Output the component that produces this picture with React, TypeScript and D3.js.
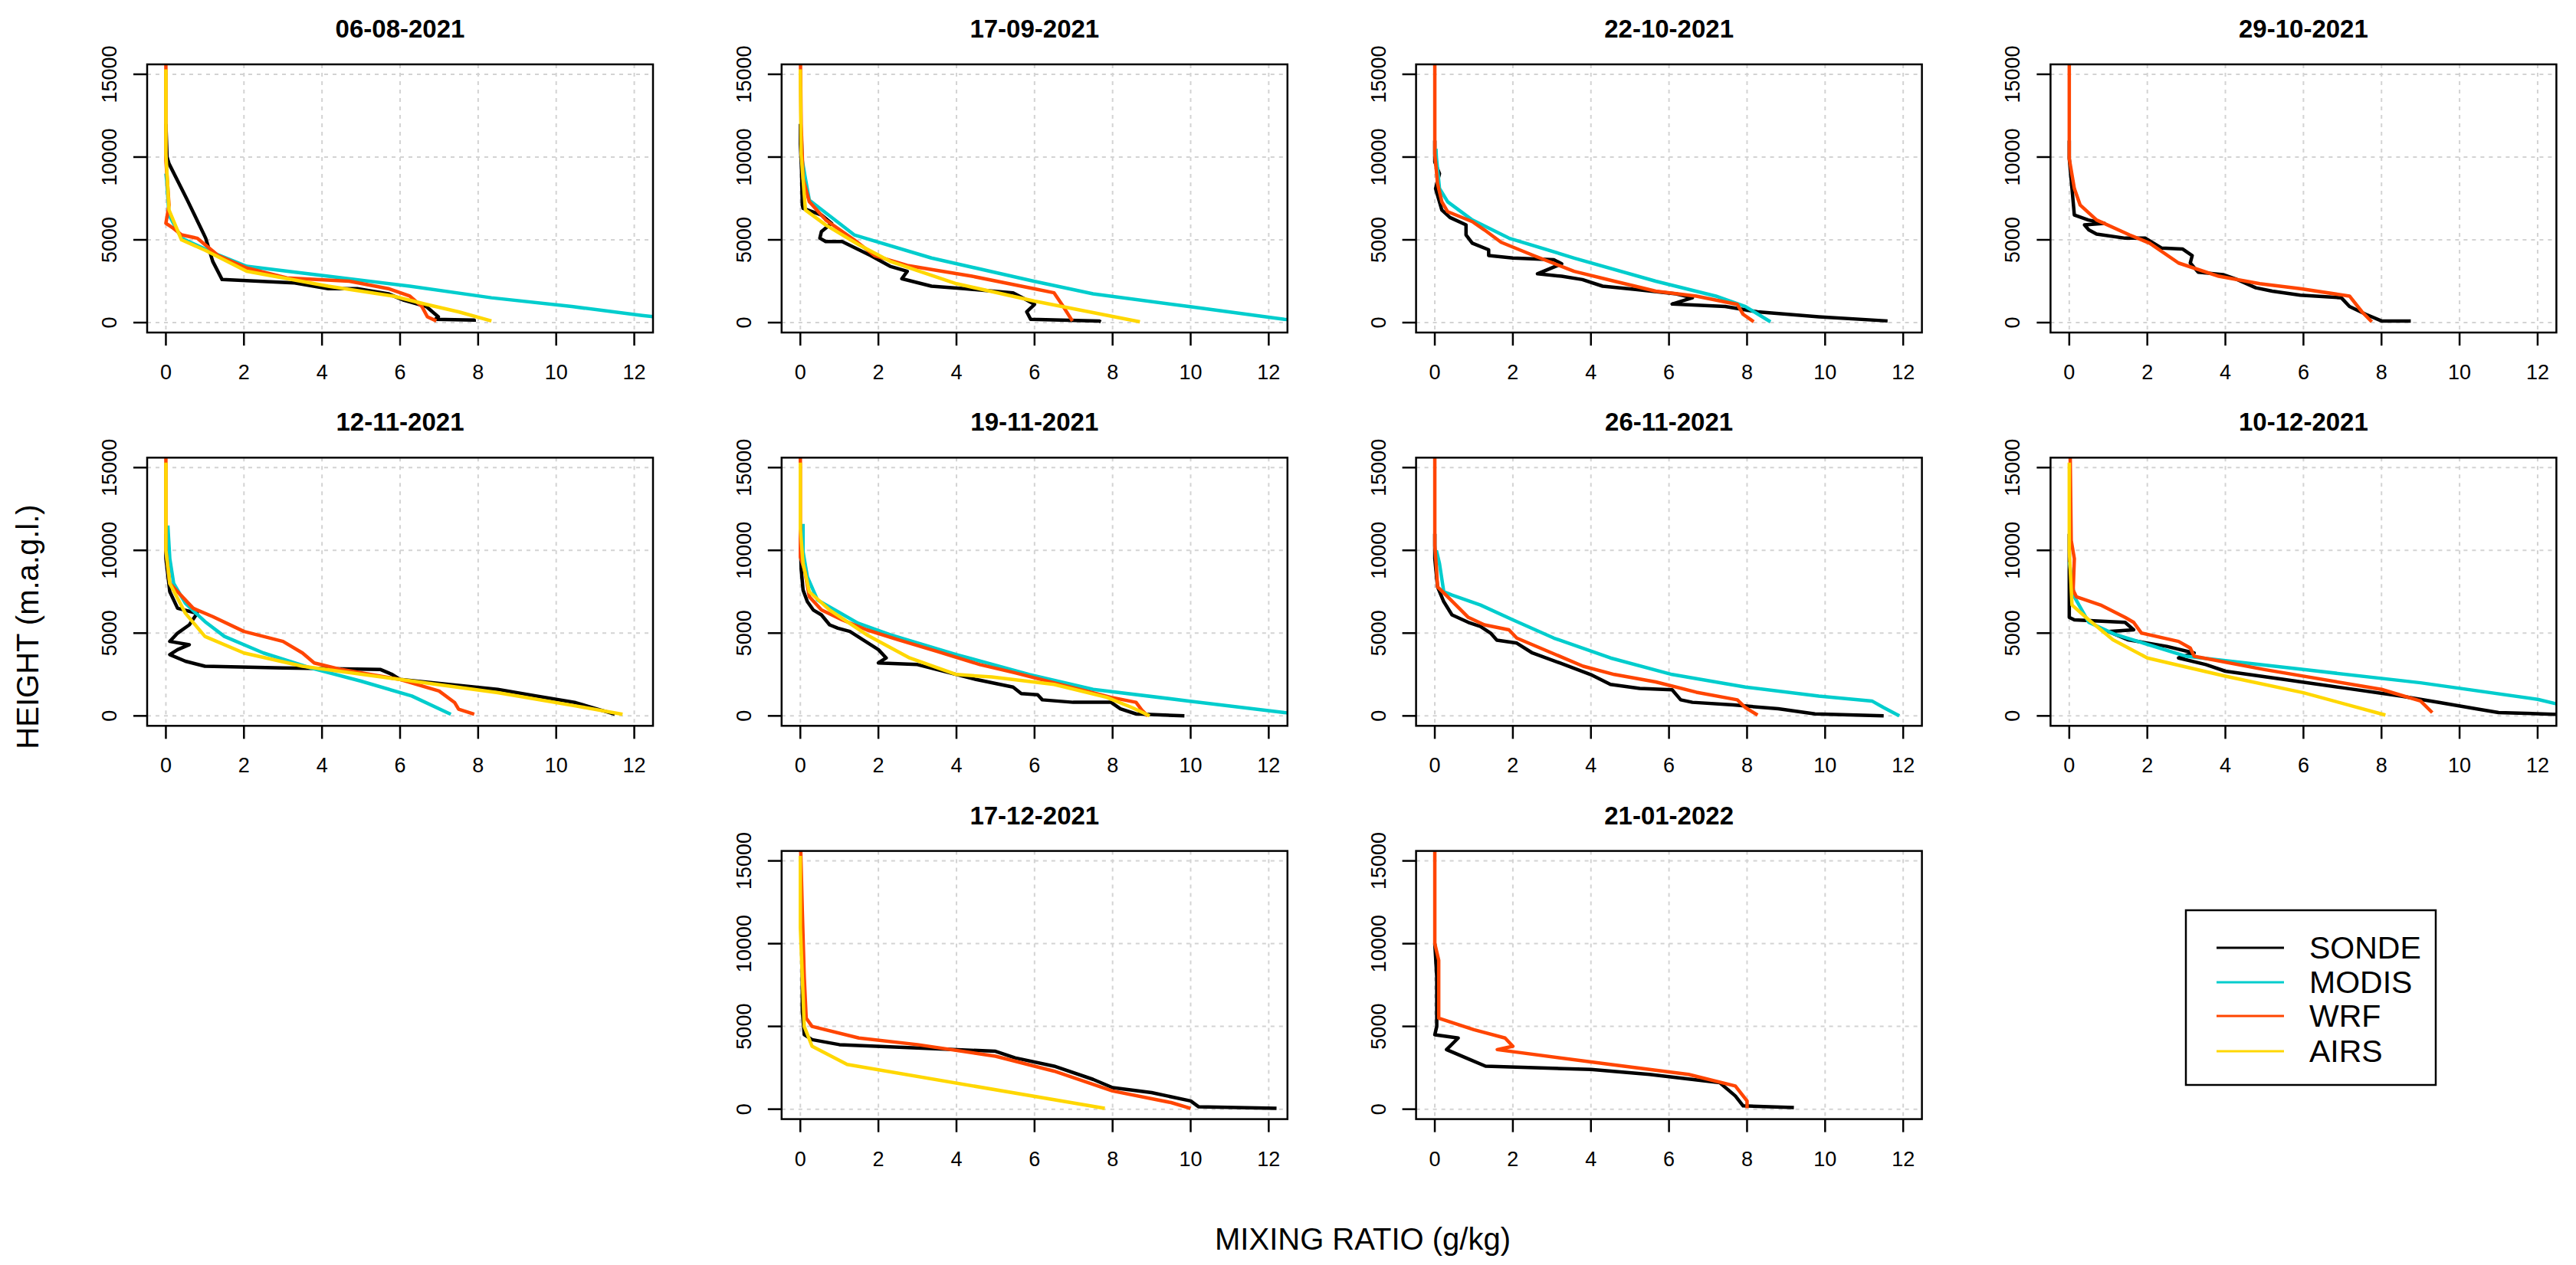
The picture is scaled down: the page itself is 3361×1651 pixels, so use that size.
import React from "react";
import * as d3 from "d3";

type Pt = [number, number];

const TITLES = [
  "06-08-2021", "17-09-2021", "22-10-2021", "29-10-2021",
  "12-11-2021", "19-11-2021", "26-11-2021", "10-12-2021",
  "17-12-2021", "21-01-2022",
];
const X_TICKS = [0, 2, 4, 6, 8, 10, 12];
const Y_TICKS = [0, 5000, 10000, 15000];
const SERIES_NAMES = ["SONDE", "MODIS", "WRF", "AIRS"];
const SERIES_COLORS = ["#000000", "#00CDCD", "#FF4500", "#FFD700"];

// ---- 06-08-2021
const SONDE_1: Pt[] = [[0,12000],[0.03,10000],[0.08,9600],[0.55,7400],[1.02,5100],[1.2,3700],[1.44,2600],[3.3,2400],[4.16,2050],[4.9,2050],[5.7,1740],[6.1,1350],[6.67,970],[6.98,350],[6.9,200],[7.9,150],[7.9,50]];
const MODIS_1: Pt[] = [[0,9000],[0.02,8600],[0.08,6500],[0.4,5100],[1.23,4200],[2.07,3400],[4.16,2800],[6.25,2200],[8.34,1500],[10.4,970],[12.2,430],[12.7,300]];
const WRF_1: Pt[] = [[0,16500],[0,9800],[0.08,7100],[0,6000],[0.19,5700],[0.4,5300],[0.8,5100],[1.34,4050],[2.07,3300],[3.1,2700],[4.7,2500],[5.7,2050],[6.25,1600],[6.56,970],[6.7,350],[6.93,100]];
const AIRS_1: Pt[] = [[0,15300],[0,10200],[0.08,6800],[0.4,5000],[1.02,4350],[2.07,3100],[4.16,2200],[5.83,1600],[6.67,1100],[7.5,650],[8.34,100]];
// ---- 17-09-2021
const SONDE_2: Pt[] = [[0,12000],[0,10800],[0.03,9300],[0.05,7100],[0.07,6900],[0.54,6500],[0.8,6000],[0.54,5500],[0.5,5100],[0.65,4900],[1.07,4900],[1.8,4050],[2.3,3400],[2.74,3100],[2.6,2650],[3.36,2200],[4.2,2050],[5.45,1800],[5.77,1400],[6.0,1100],[5.8,650],[5.9,200],[7.65,100],[7.7,50]];
const MODIS_2: Pt[] = [[0.03,11000],[0.05,9800],[0.13,8700],[0.23,7400],[1.38,5300],[3.36,3900],[5.98,2500],[7.5,1740],[9.95,970],[12.4,200],[12.7,150]];
const WRF_2: Pt[] = [[0,16500],[0.02,12000],[0.07,8700],[0.23,7300],[0.65,6200],[1.38,5000],[1.9,4050],[2.74,3450],[4.4,2800],[5.98,2050],[6.5,1800],[6.7,1100],[6.97,100]];
const AIRS_2: Pt[] = [[0,15300],[0.02,10200],[0.13,6800],[0.65,5900],[1.5,4700],[2.3,3700],[4.0,2350],[6.0,1300],[8.7,50]];
// ---- 22-10-2021
const SONDE_3: Pt[] = [[0,11000],[0,9700],[0.12,9000],[0.02,8100],[0.18,6800],[0.39,6350],[0.8,5900],[0.8,5300],[0.96,4800],[1.38,4400],[1.38,4050],[2.0,3900],[3.05,3800],[3.25,3550],[2.63,2950],[3.25,2800],[3.78,2600],[4.3,2200],[5.14,2000],[6.18,1740],[6.6,1500],[6.08,1120],[7.44,970],[8.27,650],[9.84,350],[11.6,100]];
const MODIS_3: Pt[] = [[0.03,10500],[0.04,10000],[0.12,8100],[0.33,7300],[0.96,6200],[1.9,5100],[3.57,3900],[5.66,2500],[7.2,1600],[7.96,970],[8.6,50]];
const WRF_3: Pt[] = [[0,16500],[0,10200],[0.07,8400],[0.18,7300],[0.33,6700],[0.96,6100],[1.27,5600],[1.7,4850],[2.53,4050],[3.57,3100],[4.6,2500],[5.66,1900],[6.7,1600],[7.75,1100],[7.9,500],[8.17,50]];
// ---- 29-10-2021
const SONDE_4: Pt[] = [[0,11000],[0,9900],[0.07,8100],[0.13,6500],[0.49,6200],[0.9,6000],[0.39,5900],[0.5,5600],[0.7,5350],[1.43,5100],[1.95,5100],[2.37,4500],[2.9,4450],[3.15,4050],[3.1,3600],[3.3,3050],[3.94,2900],[4.25,2650],[4.78,2100],[5.2,1900],[5.92,1660],[6.97,1500],[7.18,970],[7.6,500],[8.0,100],[8.75,100]];
const WRF_4: Pt[] = [[0,16500],[0,9900],[0.13,8100],[0.28,7100],[0.7,6200],[1.54,5300],[2.06,4800],[2.8,3600],[3.83,2800],[4.88,2350],[5.92,2050],[7.18,1600],[7.5,650],[7.75,50]];
// ---- 12-11-2021
const SONDE_5: Pt[] = [[0,11000],[0,9500],[0.1,7500],[0.3,6500],[0.8,6200],[0.6,5500],[0.3,5000],[0.1,4500],[0.6,4300],[0.3,4000],[0.1,3700],[0.5,3300],[1.0,3000],[3,2900],[5.5,2800],[5.8,2500],[6.0,2200],[8.5,1600],[9.5,1200],[10.5,800],[11.5,100]];
const MODIS_5: Pt[] = [[0.05,11500],[0.1,9500],[0.2,8000],[0.5,6800],[1.0,5700],[1.5,4800],[2.5,3800],[3.7,2900],[5.0,2100],[6.3,1200],[7.3,100]];
const WRF_5: Pt[] = [[0,16500],[0,10000],[0.1,8000],[0.7,6500],[1.2,6000],[2.0,5100],[3.0,4500],[3.5,3800],[3.8,3200],[4.5,2800],[6.0,2200],[7.0,1500],[7.4,800],[7.5,400],[7.9,100]];
const AIRS_5: Pt[] = [[0,15300],[0,10000],[0.1,8000],[0.5,6200],[1.0,4800],[2.0,3800],[3.5,3000],[6.0,2200],[8.5,1400],[10.5,600],[11.7,100]];
// ---- 19-11-2021
const SONDE_6: Pt[] = [[0,11000],[0.02,8900],[0.07,7600],[0.18,6900],[0.33,6400],[0.54,6100],[0.75,5500],[0.96,5300],[1.27,5100],[1.6,4600],[2.0,4000],[2.2,3500],[2.0,3200],[3.0,3100],[3.5,2800],[4.5,2200],[5.45,1740],[5.66,1350],[6.08,1280],[6.2,970],[6.99,820],[7.96,820],[8.2,430],[8.6,120],[9.84,0]];
const MODIS_6: Pt[] = [[0.07,11600],[0.07,9900],[0.18,8400],[0.44,7000],[0.96,6300],[1.48,5600],[2.3,4900],[4.0,3700],[5.87,2500],[7.5,1600],[9.95,900],[12.4,200],[12.7,150]];
const WRF_6: Pt[] = [[0,16500],[0,9600],[0.12,8700],[0.23,7200],[0.54,6400],[1.07,5800],[1.7,5200],[2.5,4600],[3.5,3900],[4.6,3100],[5.5,2600],[6.5,2000],[7.96,1120],[8.6,820],[8.75,350],[8.9,0]];
const AIRS_6: Pt[] = [[0,15300],[0,11300],[0.07,9200],[0.23,7500],[0.75,6400],[1.7,4900],[2.8,3500],[4.0,2500],[4.9,2350],[6.5,1900],[7.85,1120],[8.5,500],[8.95,0]];
// ---- 26-11-2021
const SONDE_7: Pt[] = [[0,11000],[0,9500],[0.07,7800],[0.23,6900],[0.44,6100],[0.86,5650],[1.17,5400],[1.43,5000],[1.59,4570],[2.1,4400],[2.5,3800],[3.2,3200],[3.99,2500],[4.5,1900],[5.25,1660],[6.08,1580],[6.3,970],[6.6,820],[7.65,660],[8.8,430],[9.74,120],[11.5,0]];
const MODIS_7: Pt[] = [[0.04,10000],[0.12,9200],[0.23,7500],[0.44,7300],[1.17,6700],[2.0,5800],[3.05,4700],[4.5,3500],[6.08,2500],[7.96,1740],[9.84,1200],[11.2,900],[11.5,500],[11.9,0]];
const WRF_7: Pt[] = [[0,16500],[0,10300],[0.04,9000],[0.07,7800],[0.33,7200],[0.86,5950],[1.27,5500],[1.9,5200],[2.1,4700],[3.0,3800],[3.8,3000],[4.6,2500],[5.66,2050],[6.7,1430],[7.75,970],[7.96,500],[8.27,50]];
// ---- 10-12-2021
const SONDE_8: Pt[] = [[0,11000],[0,8700],[0,5950],[0.13,5800],[1.43,5650],[1.65,5200],[1.0,5100],[1.5,4600],[2.5,4200],[3.2,3800],[2.8,3500],[3.5,3100],[4.0,2700],[5.5,2200],[7.0,1700],[8.5,1200],[9.5,800],[10.5,400],[11,200],[12.4,100],[12.7,100]];
const MODIS_8: Pt[] = [[0,9300],[0.13,7200],[0.5,5650],[1.2,4900],[3.0,3600],[6.0,2800],[9.0,2000],[12.0,1000],[12.7,600]];
const WRF_8: Pt[] = [[0.02,16500],[0.05,10600],[0.13,9500],[0.1,7600],[0.18,7200],[0.8,6700],[1.43,5950],[1.65,5650],[1.85,5000],[2.8,4500],[3.1,4100],[3.2,3600],[5.0,2800],[8.0,1600],[9.0,900],[9.3,200]];
const AIRS_8: Pt[] = [[0,15300],[0,10000],[0.07,6700],[0.5,5800],[1.12,4600],[2.0,3500],[4.0,2400],[6.0,1400],[8.1,50]];
// ---- 17-12-2021
const SONDE_9: Pt[] = [[0.03,12000],[0.05,10000],[0.05,6000],[0.1,4500],[0.3,4200],[1,3900],[3,3700],[5,3500],[5.5,3100],[6.5,2600],[7.5,1800],[8,1300],[9,1000],[10,500],[10.2,150],[12.2,50]];
const WRF_9: Pt[] = [[0,16500],[0.05,12000],[0.1,8000],[0.15,5500],[0.3,5000],[1.5,4300],[3,3900],[5,3200],[6.5,2300],[8,1100],[9.5,400],[10,50]];
const AIRS_9: Pt[] = [[0,15300],[0,11000],[0.05,8000],[0.1,5000],[0.3,3800],[1.2,2700],[7.8,50]];
// ---- 21-01-2022
const SONDE_10: Pt[] = [[0,10000],[0.05,8000],[0.05,5000],[0,4500],[0.6,4300],[0.3,3600],[0.9,3000],[1.3,2600],[4,2400],[5.5,2100],[7.3,1600],[7.7,800],[7.9,200],[9.2,100]];
const WRF_10: Pt[] = [[0,16500],[0,10000],[0.1,9000],[0.1,5500],[1,4800],[1.8,4300],[2,3800],[1.6,3600],[4.5,2700],[6.5,2100],[7.7,1400],[8,500],[8,50]];

const PANEL_SERIES: (Pt[] | null)[][] = [
  [SONDE_1, MODIS_1, WRF_1, AIRS_1],
  [SONDE_2, MODIS_2, WRF_2, AIRS_2],
  [SONDE_3, MODIS_3, WRF_3, null],
  [SONDE_4, null, WRF_4, null],
  [SONDE_5, MODIS_5, WRF_5, AIRS_5],
  [SONDE_6, MODIS_6, WRF_6, AIRS_6],
  [SONDE_7, MODIS_7, WRF_7, null],
  [SONDE_8, MODIS_8, WRF_8, AIRS_8],
  [SONDE_9, null, WRF_9, AIRS_9],
  [SONDE_10, null, WRF_10, null],
];

// layout (grid cell of each panel: [row, col])
const PANEL_GRID: [number, number][] = [
  [0, 0], [0, 1], [0, 2], [0, 3],
  [1, 0], [1, 1], [1, 2], [1, 3],
  [2, 1], [2, 2],
];

const W = 3361;
const H = 1651;
const COL_LEFT = 192;
const COL_STEP = 827.8;
const ROW_TOP = 84;
const ROW_STEP = 513.3;
const BOX_W = 660;
const BOX_H = 350;
const FONT = "'Liberation Sans', Arial, sans-serif";

const xScale = d3.scaleLinear().domain([-0.48, 12.48]).range([0, BOX_W]);
const yScale = d3.scaleLinear().domain([-600, 15600]).range([BOX_H, 0]);
const lineGen = d3.line<Pt>().x((d) => xScale(d[0])).y((d) => yScale(d[1]));

function Panel({ idx }: { idx: number }) {
  const [r, c] = PANEL_GRID[idx];
  const left = COL_LEFT + COL_STEP * c;
  const top = ROW_TOP + ROW_STEP * r;
  const clipId = `clip-${idx}`;
  return (
    <g transform={`translate(${left},${top})`}>
      <defs>
        <clipPath id={clipId}>
          <rect x={0} y={0} width={BOX_W} height={BOX_H} />
        </clipPath>
      </defs>
      {X_TICKS.map((t) => (
        <line key={"gx" + t} x1={xScale(t)} x2={xScale(t)} y1={0} y2={BOX_H}
          stroke="#D3D3D3" strokeWidth={2} strokeDasharray="5 6" />
      ))}
      {Y_TICKS.map((t) => (
        <line key={"gy" + t} x1={0} x2={BOX_W} y1={yScale(t)} y2={yScale(t)}
          stroke="#D3D3D3" strokeWidth={2} strokeDasharray="5 6" />
      ))}
      <g clipPath={`url(#${clipId})`}>
        {PANEL_SERIES[idx].map((s, i) =>
          s ? (
            <path key={i} d={lineGen(s) || ""} fill="none" stroke={SERIES_COLORS[i]}
              strokeWidth={4.5} strokeLinejoin="round" strokeLinecap="butt" />
          ) : null
        )}
      </g>
      <rect x={0} y={0} width={BOX_W} height={BOX_H} fill="none" stroke="#000" strokeWidth={2.5} />
      {X_TICKS.map((t) => (
        <g key={"xt" + t}>
          <line x1={xScale(t)} x2={xScale(t)} y1={BOX_H} y2={BOX_H + 17} stroke="#000" strokeWidth={2.5} />
          <text x={xScale(t)} y={BOX_H + 61} textAnchor="middle" fontSize={27} fontFamily={FONT} fill="#000">{t}</text>
        </g>
      ))}
      {Y_TICKS.map((t) => (
        <g key={"yt" + t}>
          <line x1={-18} x2={0} y1={yScale(t)} y2={yScale(t)} stroke="#000" strokeWidth={2.5} />
          <text transform={`translate(${-40},${yScale(t)}) rotate(-90)`} textAnchor="middle"
            fontSize={27} fontFamily={FONT} fill="#000">{t}</text>
        </g>
      ))}
      <text x={BOX_W / 2} y={-35} textAnchor="middle" fontSize={33} fontWeight="bold" fontFamily={FONT} fill="#000">
        {TITLES[idx]}
      </text>
    </g>
  );
}

function Legend() {
  const x0 = 2852;
  const y0 = 1188;
  const w = 326;
  const h = 228;
  const rowY = [1237, 1282, 1326, 1372];
  return (
    <g>
      <rect x={x0} y={y0} width={w} height={h} fill="#fff" stroke="#000" strokeWidth={2.5} />
      {SERIES_NAMES.map((n, i) => (
        <g key={n}>
          <line x1={2892} x2={2980} y1={rowY[i]} y2={rowY[i]} stroke={SERIES_COLORS[i]} strokeWidth={3} />
          <text x={3013} y={rowY[i] + 14} fontSize={41} fontFamily={FONT} fill="#000">{n}</text>
        </g>
      ))}
    </g>
  );
}

export default function App() {
  return (
    <svg width={W} height={H} viewBox={`0 0 ${W} ${H}`}
      style={{ position: "absolute", left: 0, top: 0, background: "#fff" }}>
      <rect x={0} y={0} width={W} height={H} fill="#fff" />
      {TITLES.map((_, i) => (
        <Panel key={i} idx={i} />
      ))}
      <Legend />
      <text transform={`translate(50,818) rotate(-90)`} textAnchor="middle" fontSize={40} fontFamily={FONT} fill="#000">
        HEIGHT (m.a.g.l.)
      </text>
      <text x={1778} y={1631} textAnchor="middle" fontSize={40} fontFamily={FONT} fill="#000">
        MIXING RATIO (g/kg)
      </text>
    </svg>
  );
}
